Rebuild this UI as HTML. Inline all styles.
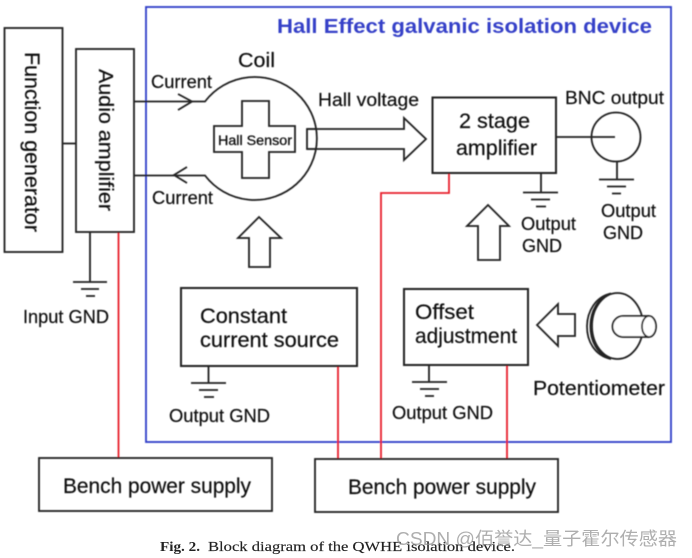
<!DOCTYPE html>
<html><head><meta charset="utf-8"><style>
html,body{margin:0;padding:0;background:#fff;width:692px;height:558px;overflow:hidden}
svg{display:block}
text{font-family:"Liberation Sans",Arial,sans-serif;fill:#111}
.t text{stroke:#111;stroke-width:.2}
</style></head><body>
<svg width="692" height="558" viewBox="0 0 692 558" xmlns="http://www.w3.org/2000/svg">
<defs><filter id="b" x="-5%" y="-5%" width="110%" height="110%"><feGaussianBlur stdDeviation="0.45"/></filter></defs>
<rect width="692" height="558" fill="#fff"/>
<g filter="url(#b)">
<rect x="146" y="7" width="525" height="435" fill="none" stroke="#2f3cc8" stroke-width="1.8"/>
<g fill="none" stroke="#e8202c" stroke-width="1.8">
<path d="M118.500 232V458"/>
<path d="M449 173V193H381V459"/>
<path d="M338 366V459"/>
<path d="M507 365V459"/>
</g>
<g fill="none" stroke="#222" stroke-width="1.8">
<rect x="4.500" y="28" width="58" height="224"/>
<rect x="76" y="49" width="58" height="183"/>
<path d="M62 143.500H76"/>
<path d="M134 101.500H205A62.200 61.500 0 1 1 205 175.500H134"/>
<path d="M178 94L192 101.500L178 110"/>
<path d="M187 167L174 175L187 183"/>
<path d="M242 101H269V126H295V152H269V178H242V152H214V126H242Z"/>
<path d="M317 129H307V149H317"/>
<path d="M307 129H404V118L426 139L404 160V149H307"/>
<rect x="432.500" y="97.500" width="123.500" height="75.500" stroke-width="2"/>
<path d="M556 137H615"/>
<circle cx="616" cy="137" r="24.500"/>
<path d="M617 161V180M599 179.500H634M607 186.500H626M612 193.500H621"/>
<path d="M541 173V192M523 192.500H558M531 199.500H550M536 206.500H546"/>
<path d="M90 232V282M73 282H107M81 289H99M86 296H95"/>
<path d="M208.500 366V383M191 383H226M199 390H218M204 397H214"/>
<path d="M429 365V382M412 382H447M420 389H439M425 396H434"/>
<path d="M488 205L509 226H500V260H478V226H467Z"/>
<path d="M259 217L281 238H270V267H249V238H238Z"/>
<rect x="181" y="288" width="176" height="78" stroke-width="2"/>
<rect x="404" y="289" width="124" height="76" stroke-width="2"/>
<rect x="39" y="458" width="233" height="53"/>
<rect x="315" y="459" width="243" height="53"/>
<path d="M537 325L558 304V314H575V336H558V346Z"/>
<ellipse cx="617.500" cy="326" rx="25.500" ry="33"/>
<path d="M611 293.500C580 300 578 352 611 359"/>
<path d="M611 293.500C584 302 583 350 611 359"/>
<path d="M649 316H623A10.500 10.500 0 0 0 623 337H649" fill="#fff"/>
<ellipse cx="649" cy="326.500" rx="7" ry="10.500" fill="#fff"/>
</g>
<g class="t">
<text x="277" y="33" font-size="20" font-weight="bold" textLength="375" lengthAdjust="spacingAndGlyphs" style="fill:#3540c8;stroke:none">Hall Effect galvanic isolation device</text>
<text transform="translate(25,52) rotate(90)" font-size="21" textLength="180" lengthAdjust="spacingAndGlyphs">Function generator</text>
<text transform="translate(99,69) rotate(90)" font-size="20" textLength="142" lengthAdjust="spacingAndGlyphs">Audio amplifier</text>
<text x="238" y="67" font-size="20" textLength="37" lengthAdjust="spacingAndGlyphs">Coil</text>
<text x="151" y="88" font-size="18" textLength="61" lengthAdjust="spacingAndGlyphs">Current</text>
<text x="152" y="204" font-size="18" textLength="61" lengthAdjust="spacingAndGlyphs">Current</text>
<text x="318" y="106" font-size="18" textLength="101" lengthAdjust="spacingAndGlyphs">Hall voltage</text>
<text x="218" y="145" font-size="14" textLength="74" lengthAdjust="spacingAndGlyphs" style="stroke-width:.3">Hall Sensor</text>
<text x="459" y="128" font-size="21" textLength="71" lengthAdjust="spacingAndGlyphs">2 stage</text>
<text x="456" y="155" font-size="21" textLength="81" lengthAdjust="spacingAndGlyphs">amplifier</text>
<text x="565" y="104" font-size="18" textLength="99" lengthAdjust="spacingAndGlyphs">BNC output</text>
<text x="521" y="230" font-size="18" textLength="55" lengthAdjust="spacingAndGlyphs">Output</text>
<text x="522" y="252" font-size="18" textLength="40" lengthAdjust="spacingAndGlyphs">GND</text>
<text x="601" y="217" font-size="18" textLength="55" lengthAdjust="spacingAndGlyphs">Output</text>
<text x="603" y="239" font-size="18" textLength="40" lengthAdjust="spacingAndGlyphs">GND</text>
<text x="23" y="323" font-size="18" textLength="86" lengthAdjust="spacingAndGlyphs">Input GND</text>
<text x="200" y="323" font-size="21" textLength="87" lengthAdjust="spacingAndGlyphs">Constant</text>
<text x="200" y="347" font-size="21" textLength="139" lengthAdjust="spacingAndGlyphs">current source</text>
<text x="169" y="422" font-size="18" textLength="101" lengthAdjust="spacingAndGlyphs">Output GND</text>
<text x="415" y="319" font-size="21" textLength="59" lengthAdjust="spacingAndGlyphs">Offset</text>
<text x="415" y="343" font-size="21" textLength="102" lengthAdjust="spacingAndGlyphs">adjustment</text>
<text x="392" y="419" font-size="18" textLength="101" lengthAdjust="spacingAndGlyphs">Output GND</text>
<text x="533" y="395" font-size="20" textLength="132" lengthAdjust="spacingAndGlyphs">Potentiometer</text>
<text x="63" y="493" font-size="21" textLength="188" lengthAdjust="spacingAndGlyphs">Bench power supply</text>
<text x="348" y="494" font-size="21" textLength="188" lengthAdjust="spacingAndGlyphs">Bench power supply</text>
</g>
</g>
<text x="160" y="551" font-size="14" font-weight="bold" textLength="40" lengthAdjust="spacingAndGlyphs" style="font-family:'Liberation Serif',serif;fill:#222">Fig. 2.</text>
<text x="208" y="551" font-size="14" textLength="307" lengthAdjust="spacingAndGlyphs" style="font-family:'Liberation Serif',serif;fill:#222;stroke:#222;stroke-width:.15">Block diagram of the QWHE isolation device.</text>
<text x="396" y="545" font-size="18" textLength="281" lengthAdjust="spacingAndGlyphs" style="font-family:'Liberation Sans','Noto Sans CJK SC',sans-serif;fill:#8c8c8c;fill-opacity:.7">CSDN @佰誉达_量子霍尔传感器</text>
</svg>
</body></html>
